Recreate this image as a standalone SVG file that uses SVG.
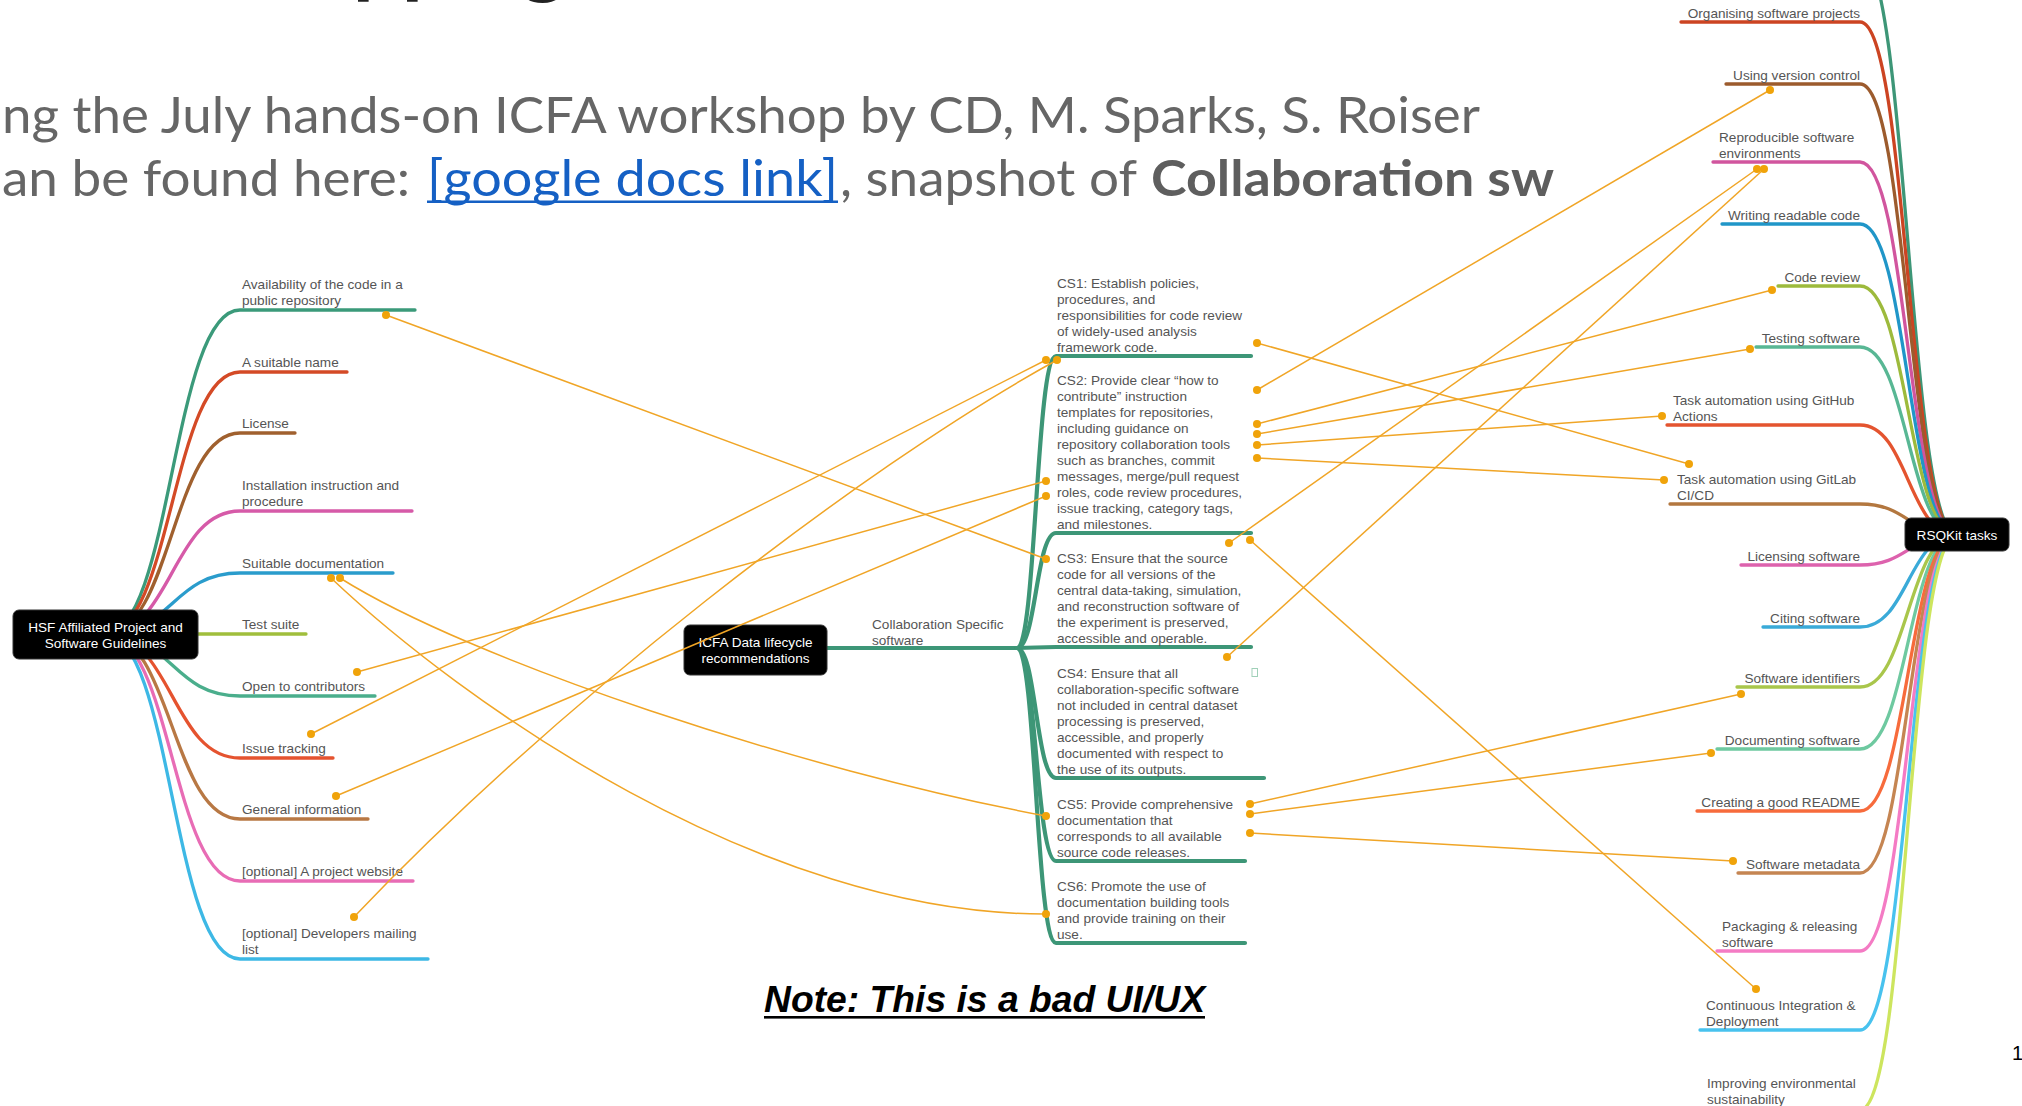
<svg xmlns="http://www.w3.org/2000/svg" width="2022" height="1106" viewBox="0 0 2022 1106">
<defs>
<style>
.hd{font-family:Lato,"Liberation Sans",sans-serif;font-size:50px;fill:#666}
.hdb{font-family:Lato,"Liberation Sans",sans-serif;font-size:50px;fill:#5e5e5e;font-weight:bold}
.lnk{font-family:Lato,"Liberation Sans",sans-serif;font-size:50px;fill:#1560c4}
.t{font-family:"Liberation Sans",Arial,sans-serif;font-size:13.6px;fill:#555}
.tr{font-family:"Liberation Sans",Arial,sans-serif;font-size:13.6px;fill:#555;text-anchor:end}
.bt{font-family:"Liberation Sans",Arial,sans-serif;font-size:13.6px;fill:#fff;text-anchor:middle}
.box{fill:#000;stroke:#333;stroke-width:1}
.br{fill:none;stroke-width:3.3;stroke-linecap:round}
.bg{fill:none;stroke:#3d9677;stroke-width:4.2;stroke-linecap:round}
.xl{fill:none;stroke:#f0a526;stroke-width:1.5}
.dot{fill:#f0a30a}
</style>
</defs>
<rect width="2022" height="1106" fill="#fff"/>

<g id="header">
<text x="229" y="-13" font-family="Lato,'Liberation Sans',sans-serif" font-weight="bold" font-size="86" fill="#222">Mapping</text>
<text class="hd" x="2" y="133" textLength="1478" lengthAdjust="spacingAndGlyphs">ng the July hands-on ICFA workshop by CD, M. Sparks, S. Roiser</text>
<text class="hd" x="2" y="196" textLength="408" lengthAdjust="spacingAndGlyphs">an be found here:</text>
<text class="lnk" x="427" y="196" textLength="411" lengthAdjust="spacingAndGlyphs">[google docs link]</text>
<rect x="427" y="200.5" width="411" height="2.5" fill="#1560c4"/>
<text class="hd" x="840" y="196" textLength="297" lengthAdjust="spacingAndGlyphs">, snapshot of</text>
<text class="hdb" x="1151" y="196" textLength="403" lengthAdjust="spacingAndGlyphs">Collaboration sw</text>
</g>

<g id="connectors">
<!-- HSF branches -->
<path class="br" stroke="#3b9a7a" d="M105 634 C172 634 172 310 240 310 L415 310"/>
<path class="br" stroke="#d44a26" d="M105 634 C172 634 172 372 240 372 L347 372"/>
<path class="br" stroke="#a0602e" d="M105 634 C172 634 172 433 240 433 L295 433"/>
<path class="br" stroke="#d65aa8" d="M105 634 C172 634 172 511 240 511 L412 511"/>
<path class="br" stroke="#2a9ccc" d="M105 634 C172 634 172 573 240 573 L393 573"/>
<path class="br" stroke="#a0be3c" d="M105 634 L306 634"/>
<path class="br" stroke="#4aae8c" d="M105 634 C172 634 172 696 240 696 L375 696"/>
<path class="br" stroke="#e5532f" d="M105 634 C172 634 172 758 240 758 L333 758"/>
<path class="br" stroke="#b87844" d="M105 634 C172 634 172 819 240 819 L368 819"/>
<path class="br" stroke="#e86cb5" d="M105 634 C172 634 172 881 240 881 L413 881"/>
<path class="br" stroke="#3db8e5" d="M105 634 C172 634 172 959 240 959 L428 959"/>
<!-- ICFA branches -->
<path class="bg" d="M800 648 L1017 648"/>
<path class="bg" d="M1017 648 C1036 648 1036 356 1056 356 L1251 356"/>
<path class="bg" d="M1017 648 C1036 648 1036 533 1056 533 L1251 533"/>
<path class="bg" d="M1017 648 C1036 648 1036 647 1056 647 L1251 647"/>
<path class="bg" d="M1017 648 C1036 648 1036 778 1056 778 L1264 778"/>
<path class="bg" d="M1017 648 C1036 648 1036 861 1056 861 L1245 861"/>
<path class="bg" d="M1017 648 C1036 648 1036 943 1056 943 L1245 943"/>
<!-- RSQKit branches -->
<path class="br" stroke="#3d9677" d="M1957 535 C1908 535 1908 -45 1860 -45 L1700 -45"/>
<path class="br" stroke="#cc4422" d="M1957 535 C1908 535 1908 22 1860 22 L1681 22"/>
<path class="br" stroke="#9c5b2d" d="M1957 535 C1908 535 1908 84 1860 84 L1726 84"/>
<path class="br" stroke="#d1559e" d="M1957 535 C1908 535 1908 162 1860 162 L1713 162"/>
<path class="br" stroke="#2096c8" d="M1957 535 C1908 535 1908 224 1860 224 L1722 224"/>
<path class="br" stroke="#9dba3c" d="M1957 535 C1908 535 1908 286 1860 286 L1778 286"/>
<path class="br" stroke="#58b794" d="M1957 535 C1908 535 1908 347 1860 347 L1756 347"/>
<path class="br" stroke="#e4542f" d="M1957 535 C1908 535 1908 425 1860 425 L1667 425"/>
<path class="br" stroke="#b3773f" d="M1957 535 C1908 535 1908 504 1860 504 L1670 504"/>
<path class="br" stroke="#dd62ad" d="M1957 535 C1908 535 1908 565 1860 565 L1741 565"/>
<path class="br" stroke="#3aaad8" d="M1957 535 C1908 535 1908 627 1860 627 L1763 627"/>
<path class="br" stroke="#a9c64b" d="M1957 535 C1908 535 1908 687 1860 687 L1737 687"/>
<path class="br" stroke="#6ec9a0" d="M1957 535 C1908 535 1908 749 1860 749 L1717 749"/>
<path class="br" stroke="#f76b3c" d="M1957 535 C1908 535 1908 811 1860 811 L1697 811"/>
<path class="br" stroke="#c58552" d="M1957 535 C1908 535 1908 873 1860 873 L1738 873"/>
<path class="br" stroke="#f47bc4" d="M1957 535 C1908 535 1908 951 1860 951 L1717 951"/>
<path class="br" stroke="#48c2ee" d="M1957 535 C1908 535 1908 1030 1860 1030 L1700 1030"/>
<path class="br" stroke="#cde55e" d="M1957 535 C1908 535 1908 1110 1860 1110 L1700 1110"/>
</g>

<g id="node-hsf">
<rect class="box" x="13" y="610" width="185" height="49" rx="6"/>
<text class="bt" x="105.5" y="631.5">HSF Affiliated Project and</text>
<text class="bt" x="105.5" y="647.5">Software Guidelines</text>
</g>
<g id="node-availability"><text class="t" x="242" y="289">Availability of the code in a</text><text class="t" x="242" y="305">public repository</text></g>
<g id="node-name"><text class="t" x="242" y="367">A suitable name</text></g>
<g id="node-license"><text class="t" x="242" y="428">License</text></g>
<g id="node-install"><text class="t" x="242" y="490">Installation instruction and</text><text class="t" x="242" y="506">procedure</text></g>
<g id="node-doc"><text class="t" x="242" y="568">Suitable documentation</text></g>
<g id="node-test"><text class="t" x="242" y="629">Test suite</text></g>
<g id="node-open"><text class="t" x="242" y="691">Open to contributors</text></g>
<g id="node-issue"><text class="t" x="242" y="753">Issue tracking</text></g>
<g id="node-general"><text class="t" x="242" y="814">General information</text></g>
<g id="node-website"><text class="t" x="242" y="876">[optional] A project website</text></g>
<g id="node-mailing"><text class="t" x="242" y="938">[optional] Developers mailing</text><text class="t" x="242" y="954">list</text></g>

<g id="node-icfa">
<rect class="box" x="684" y="625" width="143" height="50" rx="6"/>
<text class="bt" x="755.5" y="646.5">ICFA Data lifecycle</text>
<text class="bt" x="755.5" y="662.5">recommendations</text>
</g>
<g id="node-collab"><text class="t" x="872" y="628.5">Collaboration Specific</text><text class="t" x="872" y="644.5">software</text></g>
<g id="node-cs1">
<text class="t" x="1057" y="288">CS1: Establish policies,</text>
<text class="t" x="1057" y="304">procedures, and</text>
<text class="t" x="1057" y="320">responsibilities for code review</text>
<text class="t" x="1057" y="336">of widely-used analysis</text>
<text class="t" x="1057" y="352">framework code.</text>
</g>
<g id="node-cs2">
<text class="t" x="1057" y="385">CS2: Provide clear “how to</text>
<text class="t" x="1057" y="401">contribute” instruction</text>
<text class="t" x="1057" y="417">templates for repositories,</text>
<text class="t" x="1057" y="433">including guidance on</text>
<text class="t" x="1057" y="449">repository collaboration tools</text>
<text class="t" x="1057" y="465">such as branches, commit</text>
<text class="t" x="1057" y="481">messages, merge/pull request</text>
<text class="t" x="1057" y="497">roles, code review procedures,</text>
<text class="t" x="1057" y="513">issue tracking, category tags,</text>
<text class="t" x="1057" y="529">and milestones.</text>
</g>
<g id="node-cs3">
<text class="t" x="1057" y="563">CS3: Ensure that the source</text>
<text class="t" x="1057" y="579">code for all versions of the</text>
<text class="t" x="1057" y="595">central data-taking, simulation,</text>
<text class="t" x="1057" y="611">and reconstruction software of</text>
<text class="t" x="1057" y="627">the experiment is preserved,</text>
<text class="t" x="1057" y="643">accessible and operable.</text>
</g>
<g id="node-cs4">
<text class="t" x="1057" y="678">CS4: Ensure that all</text>
<text class="t" x="1057" y="694">collaboration-specific software</text>
<text class="t" x="1057" y="710">not included in central dataset</text>
<text class="t" x="1057" y="726">processing is preserved,</text>
<text class="t" x="1057" y="742">accessible, and properly</text>
<text class="t" x="1057" y="758">documented with respect to</text>
<text class="t" x="1057" y="774">the use of its outputs.</text>
<rect x="1252" y="668.5" width="5.5" height="8" fill="none" stroke="#9fd0b8" stroke-width="1"/>
</g>
<g id="node-cs5">
<text class="t" x="1057" y="809">CS5: Provide comprehensive</text>
<text class="t" x="1057" y="825">documentation that</text>
<text class="t" x="1057" y="841">corresponds to all available</text>
<text class="t" x="1057" y="857">source code releases.</text>
</g>
<g id="node-cs6">
<text class="t" x="1057" y="891">CS6: Promote the use of</text>
<text class="t" x="1057" y="907">documentation building tools</text>
<text class="t" x="1057" y="923">and provide training on their</text>
<text class="t" x="1057" y="939">use.</text>
</g>

<g id="node-rsqkit">
<rect class="box" x="1905" y="518" width="104" height="33" rx="6"/>
<text class="bt" x="1957" y="539.5">RSQKit tasks</text>
</g>
<g id="node-organising"><text class="tr" x="1860" y="17.5">Organising software projects</text></g>
<g id="node-version"><text class="tr" x="1860" y="79.5">Using version control</text></g>
<g id="node-repro"><text class="t" x="1719" y="141.5">Reproducible software</text><text class="t" x="1719" y="157.5">environments</text></g>
<g id="node-readable"><text class="tr" x="1860" y="219.5">Writing readable code</text></g>
<g id="node-review"><text class="tr" x="1860" y="281.5">Code review</text></g>
<g id="node-testing"><text class="tr" x="1860" y="342.5">Testing software</text></g>
<g id="node-github"><text class="t" x="1673" y="404.5">Task automation using GitHub</text><text class="t" x="1673" y="420.5">Actions</text></g>
<g id="node-gitlab"><text class="t" x="1677" y="483.5">Task automation using GitLab</text><text class="t" x="1677" y="499.5">CI/CD</text></g>
<g id="node-licensing"><text class="tr" x="1860" y="560.5">Licensing software</text></g>
<g id="node-citing"><text class="tr" x="1860" y="622.5">Citing software</text></g>
<g id="node-identifiers"><text class="tr" x="1860" y="682.5">Software identifiers</text></g>
<g id="node-documenting"><text class="tr" x="1860" y="744.5">Documenting software</text></g>
<g id="node-readme"><text class="tr" x="1860" y="806.5">Creating a good README</text></g>
<g id="node-metadata"><text class="tr" x="1860" y="868.5">Software metadata</text></g>
<g id="node-packaging"><text class="t" x="1722" y="930.5">Packaging &amp; releasing</text><text class="t" x="1722" y="946.5">software</text></g>
<g id="node-ci"><text class="t" x="1706" y="1009.5">Continuous Integration &amp;</text><text class="t" x="1706" y="1025.5">Deployment</text></g>
<g id="node-green"><text class="t" x="1707" y="1087.5">Improving environmental</text><text class="t" x="1707" y="1103.5">sustainability</text></g>

<g id="cross-links">
<path class="xl" d="M386 315 L1046 559"/>
<path class="xl" d="M357 672 L1046 481"/>
<path class="xl" d="M311 734 L1046 360"/>
<path class="xl" d="M336 796 L1046 496"/>
<path class="xl" d="M354 917 C554 707 857 470 1057 360"/>
<path class="xl" d="M340 578 C470 660 800 770 1046 816"/>
<path class="xl" d="M331 578 C460 700 760 915 1046 914"/>
<path class="xl" d="M1257 343 L1689 464"/>
<path class="xl" d="M1257 390 L1770 90"/>
<path class="xl" d="M1257 424 L1772 290"/>
<path class="xl" d="M1257 434 L1750 349"/>
<path class="xl" d="M1257 445 L1662 416"/>
<path class="xl" d="M1257 458 L1664 480"/>
<path class="xl" d="M1229 543 L1757 169"/>
<path class="xl" d="M1227 657 L1764 169"/>
<path class="xl" d="M1250 540 L1756 989"/>
<path class="xl" d="M1250 804 L1741 694"/>
<path class="xl" d="M1250 814 L1711 753"/>
<path class="xl" d="M1250 833 L1733 861"/>
<g class="dot">
<circle cx="386" cy="315" r="4"/><circle cx="357" cy="672" r="4"/><circle cx="311" cy="734" r="4"/>
<circle cx="336" cy="796" r="4"/><circle cx="354" cy="917" r="4"/><circle cx="340" cy="578" r="4"/>
<circle cx="331" cy="578" r="4"/>
<circle cx="1046" cy="559" r="4"/><circle cx="1046" cy="481" r="4"/><circle cx="1046" cy="496" r="4"/>
<circle cx="1046" cy="360" r="4"/><circle cx="1057" cy="360" r="4"/><circle cx="1046" cy="816" r="4"/>
<circle cx="1046" cy="914" r="4"/>
<circle cx="1257" cy="343" r="4"/><circle cx="1257" cy="390" r="4"/><circle cx="1257" cy="424" r="4"/>
<circle cx="1257" cy="434" r="4"/><circle cx="1257" cy="445" r="4"/><circle cx="1257" cy="458" r="4"/>
<circle cx="1229" cy="543" r="4"/><circle cx="1250" cy="540" r="4"/><circle cx="1227" cy="657" r="4"/>
<circle cx="1250" cy="804" r="4"/><circle cx="1250" cy="814" r="4"/><circle cx="1250" cy="833" r="4"/>
<circle cx="1689" cy="464" r="4"/><circle cx="1770" cy="90" r="4"/><circle cx="1772" cy="290" r="4"/>
<circle cx="1750" cy="349" r="4"/><circle cx="1662" cy="416" r="4"/><circle cx="1664" cy="480" r="4"/>
<circle cx="1757" cy="169" r="4"/><circle cx="1764" cy="169" r="4"/><circle cx="1756" cy="989" r="4"/>
<circle cx="1741" cy="694" r="4"/><circle cx="1711" cy="753" r="4"/><circle cx="1733" cy="861" r="4"/>
</g>
</g>

<g id="note">
<text x="764" y="1012" font-family="'Liberation Sans',Arial,sans-serif" font-size="36" font-weight="bold" font-style="italic" fill="#000" textLength="441" lengthAdjust="spacingAndGlyphs">Note: This is a bad UI/UX</text>
<rect x="764" y="1016" width="441" height="2.6" fill="#000"/>
</g>
<text x="2012" y="1060" font-family="'Liberation Sans',Arial,sans-serif" font-size="20" fill="#000">1</text>
</svg>
